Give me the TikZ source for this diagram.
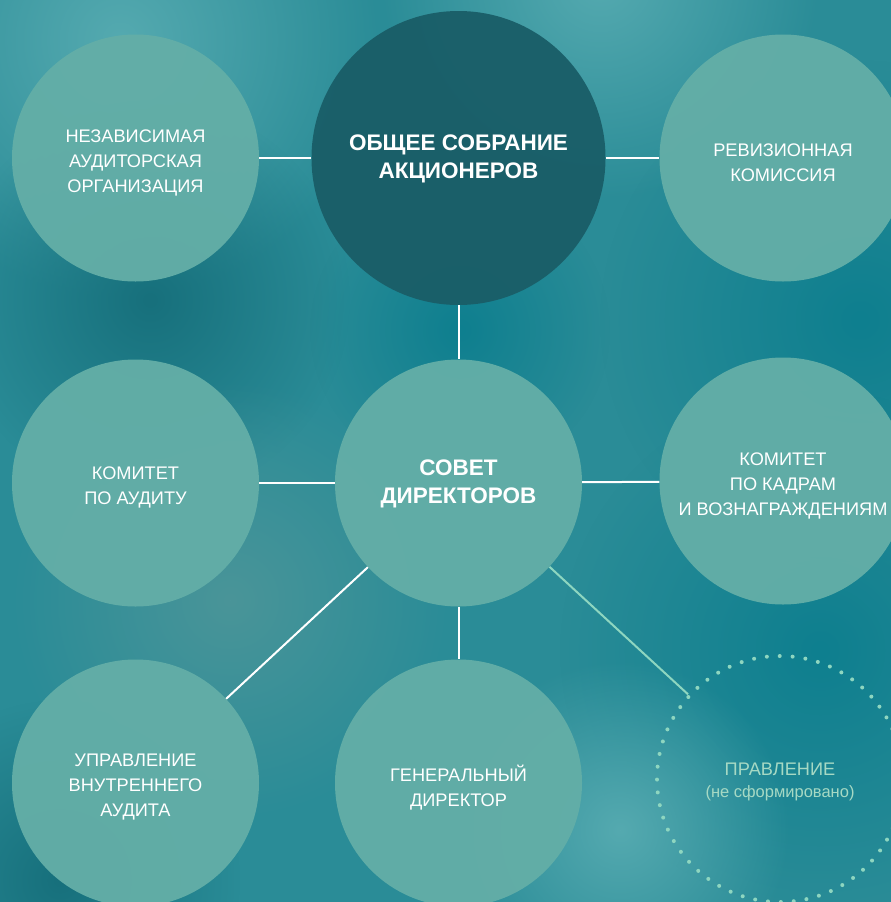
\documentclass[tikz,border=0pt]{standalone}
\usepackage{fontspec}
\setmainfont{Liberation Sans}
\usetikzlibrary{fadings}
\tikzfading[name=blobfade, inner color=transparent!0, outer color=transparent!100]
\definecolor{bgbase}{HTML}{2A8C97}
\definecolor{bglight}{HTML}{55AAB0}
\definecolor{bgdark}{HTML}{17707C}
\definecolor{bgblue}{HTML}{0E7F8F}
\definecolor{bggrey}{HTML}{4A9599}
\definecolor{lightc}{HTML}{63AEA7}
\definecolor{darkc}{HTML}{1A5E68}
\definecolor{mint}{HTML}{8ED6C0}
\definecolor{minttext}{HTML}{A6D9C4}
\begin{document}
\begin{tikzpicture}[x=1pt,y=-1pt,
  blob/.style={path fading=blobfade},
  orgc/.style={circle, fill=lightc, fill opacity=0.96, minimum size=247pt, inner sep=0pt},
  darkcirc/.style={orgc, fill=darkc, minimum size=294pt},
  dotc/.style={circle, minimum size=246pt, inner sep=0pt, draw=mint, line width=4pt,
    dash pattern=on 0pt off 12.9pt, line cap=round},
  orgt/.style={text=white, align=center, inner sep=0pt, yshift=-4.5pt, font=\fontsize{18.2}{25}\selectfont},
  maint/.style={text=white, align=center, inner sep=0pt, yshift=-1pt, font=\bfseries\fontsize{22.5}{28.5}\selectfont},
  dott/.style={text=minttext, align=center, inner sep=0pt, yshift=-3pt, font=\fontsize{18.2}{22}\selectfont},
  conn/.style={draw=white, line width=2pt},
  connmint/.style={draw=mint, line width=2pt}]
\useasboundingbox (0,0) rectangle (891,902);
\clip (0,0) rectangle (891,902);
% background
\fill[bgbase] (0,0) rectangle (891,902);
\fill[bglight, blob] (120,40) circle (260);
\fill[bglight, blob] (600,-20) circle (220);
\fill[bgdark, blob] (150,300) circle (200);
\fill[bgblue, blob] (860,320) circle (260);
\fill[bgblue, blob] (820,650) circle (260);
\fill[bggrey, blob] (230,600) circle (220);
\fill[bglight, blob] (620,830) circle (170);
\fill[bgdark, blob] (60,880) circle (180);
\fill[bgblue, blob] (460,330) circle (150);
% circles
\node[darkcirc] (osa) at (458.5,158) {};
\node[orgc] (nao) at (135.5,158) {};
\node[orgc] (rk) at (783,158) {};
\node[orgc] (sd) at (458.5,483) {};
\node[orgc] (ka) at (135.5,483) {};
\node[orgc] (kk) at (783,481) {};
\node[orgc] (uva) at (135.5,783) {};
\node[orgc] (gd) at (458.5,783) {};
\node[dotc] (pr) at (780,779) {};
% texts
\node[maint] (osat) at (osa) {ОБЩЕЕ СОБРАНИЕ\\АКЦИОНЕРОВ};
\node[orgt] (naot) at (nao) {НЕЗАВИСИМАЯ\\АУДИТОРСКАЯ\\ОРГАНИЗАЦИЯ};
\node[orgt] (rkt) at (rk) {РЕВИЗИОННАЯ\\КОМИССИЯ};
\node[maint] (sdt) at (sd) {СОВЕТ\\ДИРЕКТОРОВ};
\node[orgt] (kat) at (ka) {КОМИТЕТ\\ПО АУДИТУ};
\node[orgt] (kkt) at (kk) {КОМИТЕТ\\ПО КАДРАМ\\И ВОЗНАГРАЖДЕНИЯМ};
\node[orgt] (uvat) at (uva) {УПРАВЛЕНИЕ\\ВНУТРЕННЕГО\\АУДИТА};
\node[orgt] (gdt) at (gd) {ГЕНЕРАЛЬНЫЙ\\ДИРЕКТОР};
\node[dott] (prt) at (pr) {ПРАВЛЕНИЕ\\{\fontsize{16.5}{20}\selectfont (не сформировано)}};
% connectors
\draw[conn] (nao) -- (osa);
\draw[conn] (osa) -- (rk);
\draw[conn] (osa) -- (sd);
\draw[conn] (ka) -- (sd);
\draw[conn] (sd) -- (kk);
\draw[conn] (sd) -- (gd);
\draw[conn] (sd) -- (uva);
\draw[connmint] (sd) -- (pr);
\end{tikzpicture}
\end{document}
